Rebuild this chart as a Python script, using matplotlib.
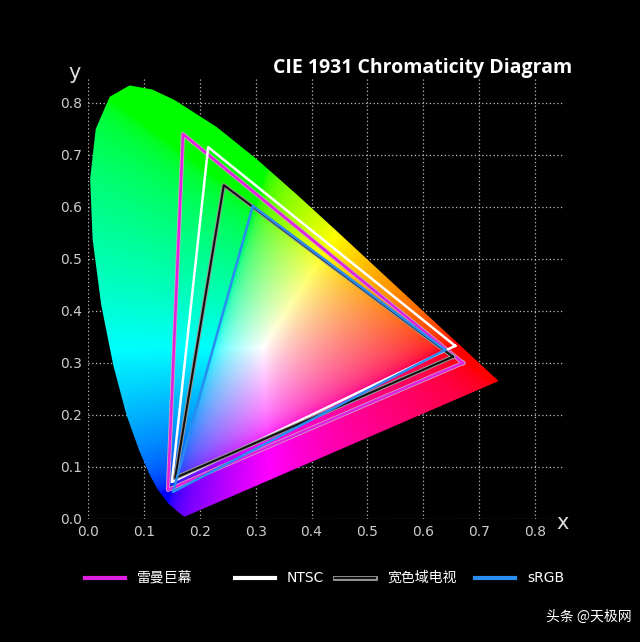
import numpy as np
import matplotlib
matplotlib.use("Agg")
import matplotlib.pyplot as plt
from matplotlib.path import Path
from matplotlib.patches import PathPatch
from matplotlib.lines import Line2D
import matplotlib.patheffects as pe

plt.rcParams['font.family'] = ['DejaVu Sans', 'Noto Sans CJK SC']

# CIE 1931 spectral locus (x, y)
locus_x = [0.1741, 0.1733, 0.1714, 0.1644, 0.1566, 0.1440, 0.1241, 0.1096, 0.0913,
           0.0687, 0.0454, 0.0235, 0.0082, 0.0039, 0.0139, 0.0389, 0.0743, 0.1142,
           0.1547, 0.2296, 0.3016, 0.3731, 0.4441, 0.5125, 0.5752, 0.6270, 0.6658,
           0.6915, 0.7190, 0.7347]
locus_y = [0.0050, 0.0048, 0.0051, 0.0109, 0.0177, 0.0297, 0.0578, 0.0868, 0.1327,
           0.2007, 0.2950, 0.4127, 0.5384, 0.6548, 0.7502, 0.8120, 0.8338, 0.8262,
           0.8059, 0.7543, 0.6923, 0.6245, 0.5547, 0.4866, 0.4242, 0.3725, 0.3340,
           0.3083, 0.2809, 0.2653]

# gamut triangles: (R, G, B) vertices
names = ['雷曼巨幕', 'NTSC', '宽色域电视', 'sRGB']
gamut_x = [[0.671, 0.170, 0.143], [0.657, 0.215, 0.150],
           [0.653, 0.243, 0.156], [0.639, 0.295, 0.152]]
gamut_y = [[0.300, 0.740, 0.056], [0.333, 0.715, 0.071],
           [0.312, 0.642, 0.079], [0.325, 0.602, 0.052]]
line_colors = ['#e020e0', '#ffffff', '#111111', '#2a8cf0']

fig = plt.figure(figsize=(6.4, 6.42), dpi=100, facecolor='black')
ax = fig.add_axes([88 / 640, 123 / 642, 475 / 640, 442 / 642], facecolor='black')

# colour fill of the horseshoe
n = 500
gx, gy = np.meshgrid(np.linspace(0, 0.85, n), np.linspace(0, 0.85, n))
gyc = np.maximum(gy, 1e-3)
X = gx / gyc
Y = np.ones_like(gx)
Z = (1 - gx - gy) / gyc
M = np.array([[3.2406, -1.5372, -0.4986],
              [-0.9689, 1.8758, 0.0415],
              [0.0557, -0.2040, 1.0570]])
rgb = np.stack([X, Y, Z], -1) @ M.T
rgb = np.clip(rgb, 0, None)
rgb = rgb / np.maximum(rgb.max(-1, keepdims=True), 1e-6)
rgb = np.where(rgb <= 0.0031308, 12.92 * rgb, 1.055 * rgb ** (1 / 2.4) - 0.055)
im = ax.imshow(rgb, origin='lower', extent=(0, 0.85, 0, 0.85), interpolation='bilinear',
               aspect='auto', zorder=1)
verts = list(zip(locus_x, locus_y)) + [(locus_x[0], locus_y[0])]
patch = PathPatch(Path(verts), facecolor='none', edgecolor='none', transform=ax.transData)
ax.add_patch(patch)
im.set_clip_path(patch)
ax.set_xlim(0, 0.85)
ax.set_ylim(0, 0.85)

ax.set_xticks(np.arange(0, 0.81, 0.1))
ax.set_yticks(np.arange(0, 0.81, 0.1))
ax.set_xticklabels(['%.1f' % v for v in np.arange(0, 0.81, 0.1)])
ax.set_yticklabels(['%.1f' % v for v in np.arange(0, 0.81, 0.1)])
ax.tick_params(colors='#cccccc', labelsize=10, length=0, pad=4)
ax.grid(True, color='#bbbbbb', linestyle=(0, (1, 2)), linewidth=0.9, zorder=0)
ax.set_axisbelow(True)
for s in ax.spines.values():
    s.set_visible(False)

for gxv, gyv, c in zip(gamut_x, gamut_y, line_colors):
    xs = gxv + [gxv[0]]
    ys = gyv + [gyv[0]]
    if c == '#111111':
        ax.plot(xs, ys, color=c, lw=1.5, zorder=3,
                path_effects=[pe.Stroke(linewidth=3, foreground='#999999'), pe.Normal()])
    elif c == '#e020e0':
        ax.plot(xs, ys, color=c, lw=1.8, zorder=3,
                path_effects=[pe.Stroke(linewidth=3, foreground='#d0a0c0'), pe.Normal()])
    else:
        ax.plot(xs, ys, color=c, lw=1.8, zorder=3)

fig.text(572 / 640, 1 - 68 / 642, 'CIE 1931 Chromaticity Diagram', color='white',
         fontsize=14, fontweight='bold', ha='right', va='center', family=['Open Sans', 'DejaVu Sans'])
fig.text(563 / 640, 1 - 523 / 642, 'x', color='#dddddd', fontsize=15, ha='center', va='center')
fig.text(75 / 640, 1 - 73 / 642, 'y', color='#dddddd', fontsize=15, ha='center', va='center')

# legend
leg_x = [85, 235, 335, 475]
ly = 1 - 578 / 642
for x0, name, c in zip(leg_x, names, line_colors):
    if c == '#111111':
        ln = Line2D([x0 / 640, (x0 + 40) / 640], [ly, ly], color=c, lw=1.5, transform=fig.transFigure,
                    path_effects=[pe.Stroke(linewidth=3.5, foreground='#999999'), pe.Normal()])
    else:
        ln = Line2D([x0 / 640, (x0 + 40) / 640], [ly, ly], color=c, lw=3, transform=fig.transFigure)
    fig.add_artist(ln)
    fig.text((x0 + 52) / 640, ly, name, color='white', fontsize=10, va='center', ha='left',
             family=['DejaVu Sans', 'Noto Sans CJK SC'])

fig.text(632 / 640, 1 - 617 / 642, '头条 @天极网', color='white', fontsize=10, ha='right', va='center',
         family=['Noto Sans CJK SC', 'DejaVu Sans'])

fig.savefig('out.png', dpi=100, facecolor='black')
